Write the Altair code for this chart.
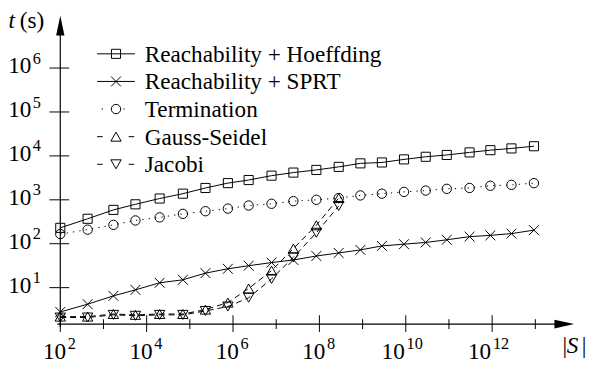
import altair as alt
import pandas as pd

# ---------------- data ----------------
S_sizes = [1.0e2, 4.3e2, 1.7e3, 5.5e3, 2.0e4, 6.9e4, 2.3e5, 7.6e5, 2.3e6, 7.8e6,
           2.5e7, 8.5e7, 2.8e8, 8.9e8, 2.8e9, 9.1e9, 2.9e10, 8.9e10, 3.0e11,
           9.1e11, 2.8e12, 9.3e12]
t_hoeffding = [230, 370, 590, 790, 1070, 1380, 1860, 2400, 2820, 3550, 4170,
               4790, 5620, 6760, 7080, 8320, 9550, 10500, 12000, 13500, 14800, 16600]
t_sprt = [2.8, 4.2, 6.5, 8.9, 12.9, 15.1, 21.4, 26.9, 31.6, 37.2, 42.7, 52.5,
          61.7, 72.4, 89.1, 97.7, 107, 123, 145, 155, 170, 204]
t_termination = [166, 209, 269, 339, 398, 479, 550, 631, 741, 813, 933, 1000,
                 1096, 1259, 1380, 1514, 1622, 1778, 1862, 2089, 2188, 2399]
t_gauss_seidel = [2.19, 2.19, 2.51, 2.40, 2.51, 2.51, 3.16, 4.57, 9.55, 24.5, 77.6, 263, 1096]
t_jacobi = [2.09, 2.09, 2.40, 2.29, 2.40, 2.40, 2.95, 3.72, 5.89, 15.8, 49.0, 178, 724]

series_names = ["Reachability + Hoeffding", "Reachability + SPRT", "Termination",
                "Gauss-Seidel", "Jacobi"]

y_tick_values = [1e1, 1e2, 1e3, 1e4, 1e5, 1e6]
y_tick_exps = ["1", "2", "3", "4", "5", "6"]
x_major_values = [1e2, 1e4, 1e6, 1e8, 1e10, 1e12]
x_major_exps = ["2", "4", "6", "8", "10", "12"]
x_minor_values = [1e3, 1e5, 1e7, 1e9, 1e11, 1e13]

# ---------------- layout / style ----------------
W, H = 521, 313
FONT = "Liberation Serif"
FS = 23.5
FS_EXP = 16.5
X_PATH = "M-1,-1L1,1M-1,1L1,-1"

xs = alt.Scale(type="log", domain=[1e2, 10 ** 13.9], nice=False)
ys = alt.Scale(type="log", domain=[10 ** 0.17, 10 ** 7.2], nice=False)

styles = [
    (series_names[0], t_hoeffding, "square", 85, None),
    (series_names[1], t_sprt, X_PATH, 100, None),
    (series_names[2], t_termination, "circle", 90, [1.3, 5.2]),
    (series_names[3], t_gauss_seidel, "triangle-up", 110, [6, 4]),
    (series_names[4], t_jacobi, "triangle-down", 110, [6, 4]),
]

layers = []
for name, tv, shape, size, dash in styles:
    df = pd.DataFrame({"S": S_sizes[:len(tv)], "t": tv})
    base = alt.Chart(df).encode(
        x=alt.X("S:Q", scale=xs, axis=None),
        y=alt.Y("t:Q", scale=ys, axis=None),
    )
    lkw = dict(color="black", strokeWidth=1)
    if dash:
        lkw["strokeDash"] = dash
    layers.append(base.mark_line(**lkw))
    layers.append(base.mark_point(shape=shape, size=size, filled=False, color="black",
                                  strokeWidth=1, opacity=1))

one = pd.DataFrame({"a": [0]})

# axis lines with arrow heads
layers.append(alt.Chart(one).mark_rule(color="black", strokeWidth=1.2).encode(
    x=alt.value(0), y=alt.value(12), y2=alt.value(H + 3)))
layers.append(alt.Chart(one).mark_rule(color="black", strokeWidth=1.2).encode(
    x=alt.value(-3), x2=alt.value(W - 12), y=alt.value(H)))
layers.append(alt.Chart(one).mark_point(shape="M0,-1L0.42,1L-0.42,1Z", size=400, filled=True,
                                        color="black", opacity=1, strokeWidth=0).encode(
    x=alt.value(0), y=alt.value(10.3)))
layers.append(alt.Chart(one).mark_point(shape="M1,0L-1,0.45L-1,-0.45Z", size=400, filled=True,
                                        color="black", opacity=1, strokeWidth=0).encode(
    x=alt.value(W - 10), y=alt.value(H)))

# y ticks and labels
ydf = pd.DataFrame({"v": y_tick_values, "e": y_tick_exps, "b": ["10"] * len(y_tick_values)})
layers.append(alt.Chart(ydf).mark_rule(color="black", strokeWidth=1).encode(
    y=alt.Y("v:Q", scale=ys, axis=None), x=alt.value(-11), x2=alt.value(9)))
layers.append(alt.Chart(ydf).mark_text(align="right", baseline="alphabetic", font=FONT,
                                       fontSize=FS, dy=5, color="black").encode(
    y=alt.Y("v:Q", scale=ys, axis=None), x=alt.value(-29.3), text="b:N"))
layers.append(alt.Chart(ydf).mark_text(align="left", baseline="alphabetic", font=FONT,
                                       fontSize=FS_EXP, dy=-4.5, color="black").encode(
    y=alt.Y("v:Q", scale=ys, axis=None), x=alt.value(-27.8), text="e:N"))

# x ticks
xmaj = pd.DataFrame({"v": x_major_values, "e": x_major_exps, "b": ["10"] * len(x_major_values)})
xmin = pd.DataFrame({"v": x_minor_values})
layers.append(alt.Chart(xmaj).mark_rule(color="black", strokeWidth=1).encode(
    x=alt.X("v:Q", scale=xs, axis=None), y=alt.value(H - 9), y2=alt.value(H + 8)))
layers.append(alt.Chart(xmin).mark_rule(color="black", strokeWidth=1).encode(
    x=alt.X("v:Q", scale=xs, axis=None), y=alt.value(H - 5), y2=alt.value(H + 5)))

# x labels: single-digit and two-digit exponents centred differently
x1 = xmaj[xmaj["e"].str.len() == 1]
x2 = xmaj[xmaj["e"].str.len() == 2]
for dfl, dx_b, dx_e in [(x1, 6.0, 7.6), (x2, -1.0, 0.8)]:
    layers.append(alt.Chart(dfl).mark_text(align="right", baseline="alphabetic", font=FONT,
                                           fontSize=FS, dx=dx_b, color="black").encode(
        x=alt.X("v:Q", scale=xs, axis=None), y=alt.value(H + 35), text="b:N"))
    layers.append(alt.Chart(dfl).mark_text(align="left", baseline="alphabetic", font=FONT,
                                           fontSize=FS_EXP, dx=dx_e, color="black").encode(
        x=alt.X("v:Q", scale=xs, axis=None), y=alt.value(H + 25.5), text="e:N"))

def txt(s, x, y, italic=False, align="left", size=FS, font=FONT):
    kw = dict(align=align, baseline="alphabetic", font=font, fontSize=size, color="black")
    if italic:
        kw["fontStyle"] = "italic"
    return alt.Chart(one).mark_text(**kw).encode(x=alt.value(x), y=alt.value(y), text=alt.value(s))

# axis titles
layers.append(txt("t", -52.5, 12.5, italic=True))
layers.append(txt("(s)", -41, 12.5))
layers.append(txt("|", 511.5, 342, align="center"))
layers.append(txt("S", 513.5, 342, italic=True))
layers.append(txt("|", 531, 342, align="center"))

# legend
leg_y0, leg_step = 39, 28
for i, (name, tv, shape, size, dash) in enumerate(styles):
    cy = leg_y0 + leg_step * i
    if i < 2:
        rkw = dict(color="black", strokeWidth=1)
        xa, xb = 37.3, 75.7
    elif i == 2:
        rkw = dict(color="black", strokeWidth=1, strokeDash=[1.3, 20.7])
        xa, xb = 42, 72
    else:
        rkw = dict(color="black", strokeWidth=1, strokeDash=[5.7, 26.3])
        xa, xb = 37.3, 75.7
    layers.append(alt.Chart(one).mark_rule(**rkw).encode(
        x=alt.value(xa), x2=alt.value(xb), y=alt.value(cy)))
    layers.append(alt.Chart(one).mark_point(shape=shape, size=size, filled=False, color="black",
                                            strokeWidth=1, opacity=1).encode(
        x=alt.value(56.5), y=alt.value(cy)))
    layers.append(txt(name, 85.7, cy + 8))

chart = alt.layer(*layers).properties(
    width=W, height=H,
    padding={"left": 53, "top": 5, "right": 14, "bottom": 39},
    autosize=alt.AutoSizeParams(type="none"),
    background="white",
).configure_view(stroke=None)

chart.save("out.html", embed_options={"renderer": "svg", "actions": False})
